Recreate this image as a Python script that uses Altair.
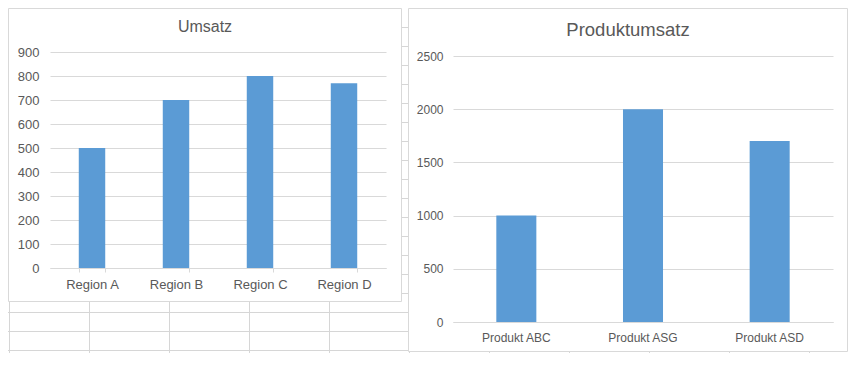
import altair as alt
import pandas as pd

# ---- chart values ----
regions = ["Region A", "Region B", "Region C", "Region D"]
umsatz = [500, 700, 800, 770]
umsatz_ticks = [0, 100, 200, 300, 400, 500, 600, 700, 800, 900]

produkte = ["Produkt ABC", "Produkt ASG", "Produkt ASD"]
produktumsatz = [1000, 2000, 1700]
produkt_ticks = [0, 500, 1000, 1500, 2000, 2500]

titles = ["Umsatz", "Produktumsatz"]

# ---- styling / layout (pixels in the drawing area) ----
W, H = 840, 345
FONT = "Liberation Sans"
TEXT = "#595959"
LINE = "#d9d9d9"
SHEET = "#d6d6d6"
BLUE = "#5b9bd5"
OX, OY = 8, 8  # page offset of drawing area

# spreadsheet background cells (page px)
sheet_cols = [9.5, 89.5, 169.5, 249.5, 329.5, 409.5, 489.5, 569.5, 649.5, 729.5, 809.5]
sheet_rows = [27.5, 46.5, 65.5, 84.5, 103.5, 122.5, 141.5, 160.5, 179.5, 198.5,
              217.5, 236.5, 255.5, 274.5, 293.5, 312.5, 331.5, 350.5]
frame1 = (8.5, 401.5, 8.5, 301.5)   # x1, x2, y1, y2 page px
frame2 = (408.5, 847.5, 8.5, 351.5)

segs = []
for r in sheet_rows:
    if r < frame1[3]:
        segs.append((frame1[1], frame2[0], r, r))
    elif r < frame2[3]:
        segs.append((OX, frame2[0], r, r))
for c in sheet_cols:
    if c < frame1[1]:
        segs.append((c, c, frame1[3], OY + H))
    else:
        segs.append((c, c, frame2[3], OY + H))
sheet_df = pd.DataFrame(
    [{"x": a - OX, "x2": b - OX, "y": c - OY, "y2": d - OY} for a, b, c, d in segs]
)

sheet = alt.Chart(sheet_df).mark_rule(color=SHEET, strokeWidth=1).encode(
    x=alt.X("x:Q", scale=None, axis=None),
    x2="x2:Q",
    y=alt.Y("y:Q", scale=None, axis=None),
    y2="y2:Q",
)


def frame(f):
    return alt.Chart(alt.Data(values=[{"f": 1}])).mark_rect(
        fillOpacity=0, stroke=LINE, strokeWidth=1
    ).encode(
        x=alt.value(f[0] - OX), x2=alt.value(f[1] - OX),
        y=alt.value(f[2] - OY), y2=alt.value(f[3] - OY),
    )


def title(txt, cx, base, size):
    return alt.Chart(pd.DataFrame({"t": [txt]})).mark_text(
        font=FONT, fontSize=size, color=TEXT, align="center", baseline="alphabetic"
    ).encode(x=alt.value(cx - OX), y=alt.value(base - OY), text="t:N")


df1 = pd.DataFrame({"Region": regions, "Umsatz": umsatz})
df2 = pd.DataFrame({"Produkt": produkte, "Umsatz": produktumsatz})

bars1 = alt.Chart(df1).mark_bar(color=BLUE).encode(
    x=alt.X(
        "Region:N", sort=regions, title=None,
        scale=alt.Scale(range=[42, 378], paddingInner=0.685, paddingOuter=0.3425),
        axis=alt.Axis(orient="bottom", offset=260 - H, grid=False, domainColor=LINE,
                      tickColor=LINE, tickSize=4, tickBand="extent", labelAngle=0,
                      labelFont=FONT, labelFontSize=13, labelColor=TEXT, labelPadding=6),
    ),
    y=alt.Y(
        "Umsatz:Q", title=None,
        scale=alt.Scale(domain=[0, 900], range=[260, 44], nice=False),
        axis=alt.Axis(orient="left", offset=-42, values=umsatz_ticks, format="d",
                      domain=False, ticks=False, tickSize=0, grid=True, gridColor=LINE,
                      labelFont=FONT, labelFontSize=13, labelColor=TEXT, labelPadding=11),
    ),
)

bars2 = alt.Chart(df2).mark_bar(color=BLUE).encode(
    x=alt.X(
        "Produkt:N", sort=produkte, title=None,
        scale=alt.Scale(range=[445, 825], paddingInner=0.684, paddingOuter=0.342),
        axis=alt.Axis(orient="bottom", offset=314 - H, grid=False, domainColor=LINE,
                      ticks=False, tickSize=0, labelAngle=0,
                      labelFont=FONT, labelFontSize=12, labelColor=TEXT, labelPadding=10),
    ),
    y=alt.Y(
        "Umsatz:Q", title=None,
        scale=alt.Scale(domain=[0, 2500], range=[314, 48], nice=False),
        axis=alt.Axis(orient="left", offset=-445, values=produkt_ticks, format="d",
                      domain=False, ticks=False, tickSize=0, grid=True, gridColor=LINE,
                      labelFont=FONT, labelFontSize=12, labelColor=TEXT, labelPadding=10),
    ),
)

chart = alt.layer(
    sheet,
    frame(frame1),
    frame(frame2),
    title(titles[0], 205, 32, 16),
    title(titles[1], 628, 35.5, 18.5),
    bars1,
    bars2,
).resolve_scale(x="independent", y="independent").resolve_axis(
    x="independent", y="independent"
).properties(
    width=W, height=H, padding=0,
    autosize=alt.AutoSizeParams(type="none"),
    background="white",
).configure_view(stroke="transparent")

chart.save("out.html", embed_options={"renderer": "svg", "actions": False})
